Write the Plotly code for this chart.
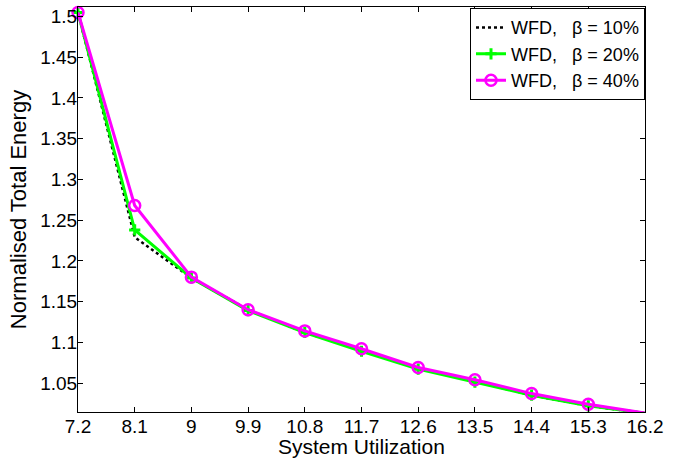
import plotly.graph_objects as go

utilization = [7.2, 8.1, 9.0, 9.9, 10.8, 11.7, 12.6, 13.5, 14.4, 15.3, 16.2]
x_tick_labels = ["7.2", "8.1", "9", "9.9", "10.8", "11.7", "12.6", "13.5", "14.4", "15.3", "16.2"]
y_tick_values = [1.05, 1.1, 1.15, 1.2, 1.25, 1.3, 1.35, 1.4, 1.45, 1.5]
y_tick_labels = ["1.05", "1.1", "1.15", "1.2", "1.25", "1.3", "1.35", "1.4", "1.45", "1.5"]

energy_beta10 = [1.505, 1.229, 1.179, 1.140, 1.112, 1.090, 1.068, 1.052, 1.035, 1.022, 1.013]
energy_beta20 = [1.505, 1.238, 1.179, 1.139, 1.112, 1.089, 1.067, 1.051, 1.035, 1.022, 1.013]
energy_beta40 = [1.505, 1.268, 1.180, 1.140, 1.114, 1.092, 1.069, 1.054, 1.037, 1.024, 1.013]

names = ["WFD,\u00a0\u00a0\u00a0β = 10%", "WFD,\u00a0\u00a0\u00a0β = 20%", "WFD,\u00a0\u00a0\u00a0β = 40%"]

fig = go.Figure()
fig.add_trace(go.Scatter(x=utilization, y=energy_beta10, mode="lines", name=names[0],
                         line=dict(color="black", width=2.5, dash="dot")))
fig.add_trace(go.Scatter(x=utilization, y=energy_beta20, mode="lines+markers", name=names[1],
                         line=dict(color="#00ff00", width=3),
                         marker=dict(symbol="cross-thin", size=8, line=dict(color="#00ff00", width=3))))
fig.add_trace(go.Scatter(x=utilization, y=energy_beta40, mode="lines+markers", name=names[2],
                         line=dict(color="#ff00ff", width=3),
                         marker=dict(symbol="circle-open", size=11, color="#ff00ff",
                                     line=dict(color="#ff00ff", width=2.5))))

fig.update_layout(
    width=683, height=460,
    margin=dict(l=78, r=38, t=7, b=48),
    paper_bgcolor="white", plot_bgcolor="white",
    font=dict(family="Liberation Sans, Arial, sans-serif", color="black", size=19),
    showlegend=True,
    legend=dict(x=1, y=0.997, xanchor="right", yanchor="top",
                bgcolor="white", bordercolor="black", borderwidth=1,
                font=dict(size=18), itemwidth=30, tracegroupgap=0),
    annotations=[dict(text="System Utilization", xref="paper", yref="paper",
                      x=0.5, y=-0.085, xanchor="center", yanchor="middle",
                      showarrow=False, font=dict(size=21))],
)
fig.update_xaxes(
    range=[7.2, 16.2], tickvals=utilization, ticktext=x_tick_labels,
    ticks="inside", ticklen=5, tickcolor="black", mirror="ticks",
    showline=True, linecolor="black", linewidth=1, showgrid=False, zeroline=False,
    tickfont=dict(size=19), ticklabelstandoff=-3,
)
fig.update_yaxes(
    range=[1.0144, 1.5117], tickvals=y_tick_values, ticktext=y_tick_labels,
    ticks="inside", ticklen=5, tickcolor="black", mirror="ticks",
    showline=True, linecolor="black", linewidth=1, showgrid=False, zeroline=False,
    tickfont=dict(size=19), ticklabelstandoff=-4,
    title=dict(text="Normalised Total Energy", font=dict(size=22), standoff=7),
)
fig.update_traces(cliponaxis=False)

fig.write_html("out.html")
